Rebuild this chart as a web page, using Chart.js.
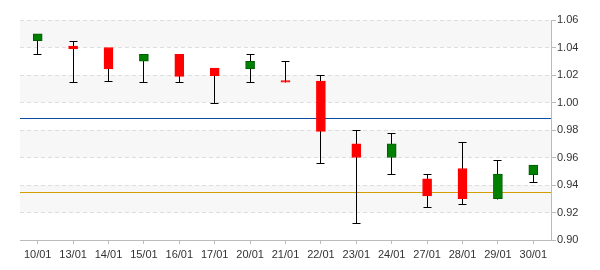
<!DOCTYPE html>
<html>
<head>
<meta charset="utf-8">
<script src="https://cdn.jsdelivr.net/npm/chart.js@4/dist/chart.umd.min.js"></script>
<style>
  body { margin: 0; background: #fff; }
  #chart { display: block; }
</style>
</head>
<body>
<canvas id="chart" width="600" height="270"></canvas>
<script>
const labels = ['10/01', '13/01', '14/01', '15/01', '16/01', '17/01', '20/01', '21/01',
  '22/01', '23/01', '24/01', '27/01', '28/01', '29/01', '30/01'];
const openVals  = [1.045, 1.041, 1.040, 1.030, 1.035, 1.025, 1.0245, 1.016, 1.0155, 0.970, 0.960, 0.9445, 0.952, 0.930, 0.9475];
const closeVals = [1.050, 1.039, 1.0245, 1.035, 1.019, 1.0195, 1.030, 1.0147, 0.979, 0.960, 0.970, 0.932, 0.930, 0.948, 0.9545];
const highVals  = [1.050, 1.045, 1.040, 1.035, 1.035, 1.025, 1.035, 1.030, 1.020, 0.980, 0.978, 0.948, 0.9715, 0.958, 0.9545];
const lowVals   = [1.035, 1.015, 1.0155, 1.015, 1.015, 1.000, 1.015, 1.0147, 0.956, 0.912, 0.948, 0.924, 0.926, 0.930, 0.942];
const blueLevel = 0.9885;
const goldLevel = 0.9347;

const upColor = '#008000', upBorder = '#005c00';
const downColor = '#ff0000';

// alternating grey bands between y ticks
const bandsPlugin = {
  id: 'bands',
  beforeDraw(chart) {
    const { ctx, chartArea, scales: { y } } = chart;
    ctx.save();
    ctx.fillStyle = '#f7f7f7';
    for (let i = 1; i < y.ticks.length - 1; i += 2) {
      const top = y.getPixelForValue(y.ticks[i + 1].value);
      const bot = y.getPixelForValue(y.ticks[i].value);
      ctx.fillRect(chartArea.left, top, chartArea.right - chartArea.left, bot - top);
    }
    ctx.restore();
  }
};

// reference lines + wicks, drawn under the bodies
const wickPlugin = {
  id: 'wicks',
  beforeDatasetsDraw(chart) {
    const { ctx, chartArea, scales: { y } } = chart;
    ctx.save();
    [[blueLevel, '#0b4ea2'], [goldLevel, '#d1a000']].forEach(([v, c]) => {
      const py = Math.round(y.getPixelForValue(v)) + 0.5;
      ctx.strokeStyle = c;
      ctx.lineWidth = 1.2;
      ctx.beginPath();
      ctx.moveTo(chartArea.left, py);
      ctx.lineTo(chartArea.right, py);
      ctx.stroke();
    });

    const meta = chart.getDatasetMeta(0);
    ctx.strokeStyle = '#000';
    ctx.lineWidth = 1;
    meta.data.forEach((bar, i) => {
      const x = Math.floor(bar.x) + 0.5;
      const top = Math.max(openVals[i], closeVals[i]);
      const bot = Math.min(openVals[i], closeVals[i]);
      const yh = Math.round(y.getPixelForValue(highVals[i])) + 0.5;
      const yl = Math.round(y.getPixelForValue(lowVals[i])) + 0.5;
      ctx.beginPath();
      ctx.moveTo(x, yh);
      ctx.lineTo(x, yl);
      if (highVals[i] > top + 0.0005) {
        ctx.moveTo(x - 4, yh);
        ctx.lineTo(x + 4, yh);
      }
      if (lowVals[i] < bot - 0.0005) {
        ctx.moveTo(x - 4, yl);
        ctx.lineTo(x + 4, yl);
      }
      ctx.stroke();
    });
    ctx.restore();
  }
};

const isUp = openVals.map((o, i) => closeVals[i] >= o);

new Chart(document.getElementById('chart'), {
  type: 'bar',
  data: {
    labels: labels,
    datasets: [{
      data: openVals.map((o, i) => [o, closeVals[i]]),
      backgroundColor: isUp.map(u => u ? upColor : downColor),
      borderColor: isUp.map(u => u ? upBorder : downColor),
      borderWidth: 1,
      borderSkipped: false,
      barThickness: 9
    }]
  },
  options: {
    responsive: false,
    animation: false,
    layout: { padding: { left: 20, top: 20, right: 0, bottom: 0 } },
    plugins: { legend: { display: false }, tooltip: { enabled: false } },
    scales: {
      x: {
        grid: { offset: false, drawOnChartArea: false, drawTicks: true, tickLength: 4, tickColor: '#bbb' },
        border: { color: '#bbb', width: 1 },
        ticks: { color: '#333', font: { family: 'Liberation Sans, Arial', size: 11 }, padding: 4, maxRotation: 0, autoSkip: false },
        afterFit(scale) { scale.height = 30; }
      },
      y: {
        position: 'right',
        min: 0.90,
        max: 1.06,
        grid: { color: '#dddddd', tickLength: 5, tickColor: '#bbb', tickBorderDash: [] },
        border: { color: '#bbb', width: 1, dash: [4, 3] },
        ticks: {
          stepSize: 0.02,
          color: '#333',
          font: { family: 'Liberation Sans, Arial', size: 11 },
          padding: 1,
          callback: v => v.toFixed(2)
        },
        afterFit(scale) { scale.width = 49; }
      }
    }
  },
  plugins: [bandsPlugin, wickPlugin]
});
</script>
</body>
</html>
